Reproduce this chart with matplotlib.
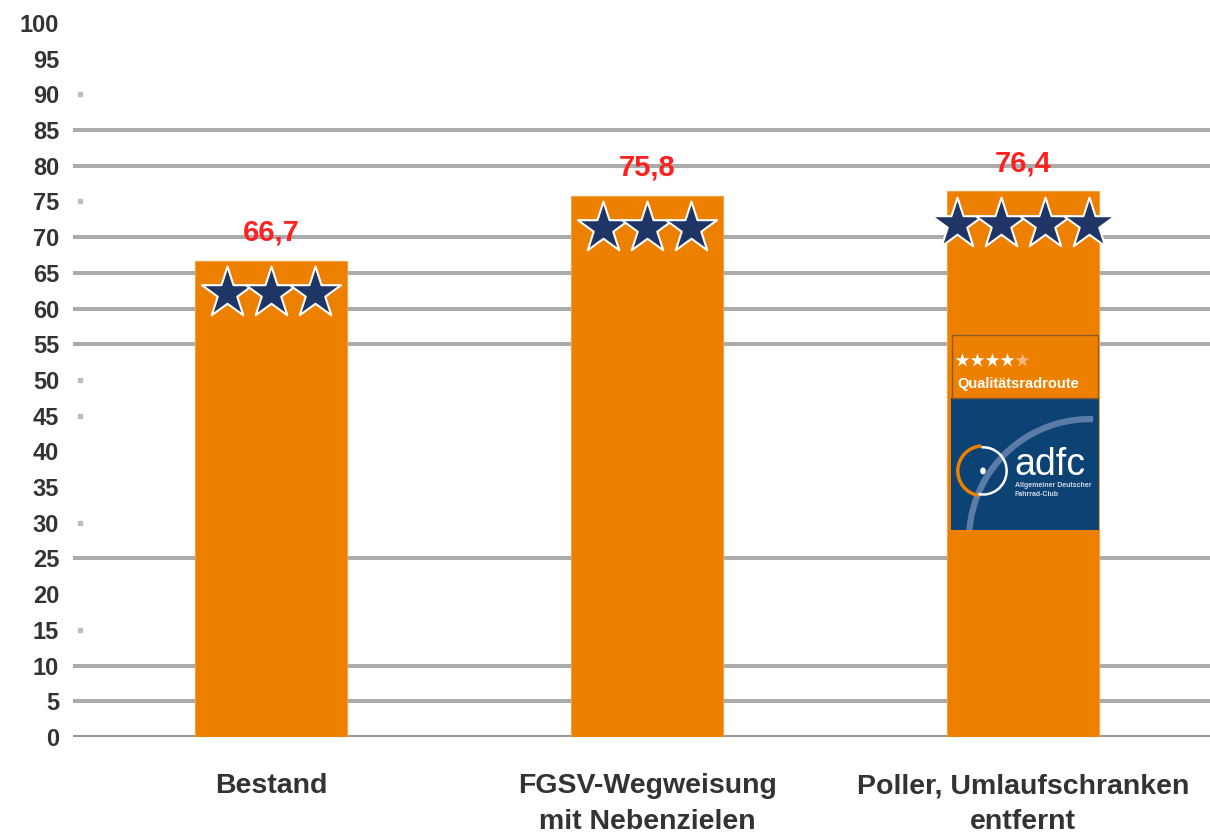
import matplotlib.pyplot as plt
import numpy as np
from matplotlib.patches import Rectangle, Arc, Circle

# data
categories = ['Bestand', 'FGSV-Wegweisung\nmit Nebenzielen', 'Poller, Umlaufschranken\nentfernt']
values = [66.7, 75.8, 76.4]
value_labels = ['66,7', '75,8', '76,4']
star_counts = [3, 3, 4]
y_ticks = list(range(0, 101, 5))
grid_values = [0, 5, 10, 25, 55, 60, 65, 70, 80, 85]
stub_values = [15, 30, 45, 50, 75, 90]

orange = '#ee8000'
navy = '#1f3566'
grey = '#ababab'

plt.rcParams['font.family'] = ['Liberation Sans', 'DejaVu Sans']

fig = plt.figure(figsize=(12.1, 8.35), dpi=100)
ax = fig.add_axes([0.0603, 0.1174, 0.9397, 0.8551])

x = np.arange(len(categories))
ax.set_xlim(-0.527, 2.497)
ax.set_ylim(0, 100)

for g in grid_values:
    ax.axhline(g, color='#999999' if g == 0 else grey, linewidth=2.9, zorder=1)
for s in stub_values:
    ax.plot([0.006], [s], transform=ax.get_yaxis_transform(), marker='s',
            markersize=3.5, color='#bdbdbd', linestyle='none', clip_on=False, zorder=1)

ax.bar(x, values, width=0.404, color=orange, edgecolor='#f5a040', linewidth=0.8, zorder=2)

star_gap = 0.117
for xi, v, lab, n in zip(x, values, value_labels, star_counts):
    ax.text(xi, v + 3.9, lab, ha='center', va='center', color='#ff2020',
            fontsize=21, fontweight='bold', zorder=4)
    offs = (np.arange(n) - (n - 1) / 2) * star_gap
    ax.scatter(xi + offs, [v - 4.5] * n, marker='*', s=1500, color=navy,
               edgecolors='white', linewidths=1.5, zorder=3)

ax.set_yticks(y_ticks)
ax.set_yticklabels([str(t) for t in y_ticks], fontsize=17, fontweight='bold', color='#333333')
ax.set_xticks(x)
ax.set_xticklabels(categories, fontsize=20.5, fontweight='bold', color='#333333', linespacing=1.52)
ax.tick_params(axis='y', length=0, pad=10)
ax.tick_params(axis='x', length=0, pad=26)
for sp in ax.spines.values():
    sp.set_visible(False)

# ADFC logo on third bar
lg = fig.add_axes([951 / 1210, (835 - 530) / 835, 148 / 1210, 197 / 835])
lg.set_xlim(0, 1)
lg.set_ylim(0, 1)
lg.axis('off')
lg.add_patch(Rectangle((0, 0), 1, 0.67, color='#0d4275', clip_on=True))
lg.add_patch(Rectangle((0.01, 0.67), 0.98, 0.32, facecolor=orange, edgecolor='#8a5a2a', linewidth=1))
star_x = 0.075 + np.arange(5) * 0.101
lg.scatter(star_x[:4], [0.865] * 4, marker='*', s=110, color='white', linewidths=0)
lg.scatter(star_x[4:], [0.865], marker='*', s=110, color='#f7b880', linewidths=0)
lg.text(0.04, 0.74, 'Qualitätsradroute', color='white', fontsize=10.5, fontweight='bold',
        va='center', ha='left')
big = Arc((0.939, -0.051), 1.635, 1.228, theta1=88, theta2=205, color='#5a7ca6', linewidth=4.5)
lg.add_patch(big)
lg.add_patch(Arc((0.216, 0.30), 0.34, 0.254, theta1=95, theta2=255, color=orange, linewidth=2.5))
lg.add_patch(Arc((0.216, 0.30), 0.32, 0.24, theta1=255, theta2=95, color='white', linewidth=1.8))
lg.add_patch(Circle((0.216, 0.30), 0.014, color='white'))
lg.text(0.43, 0.33, 'adfc', color='white', fontsize=27, va='center', ha='left')
lg.text(0.43, 0.245, 'Allgemeiner Deutscher\nFahrrad-Club', color='#d0d8e8', fontsize=5,
        va='top', ha='left', fontweight='bold', linespacing=1.5)

fig.savefig('out.png', dpi=100)
